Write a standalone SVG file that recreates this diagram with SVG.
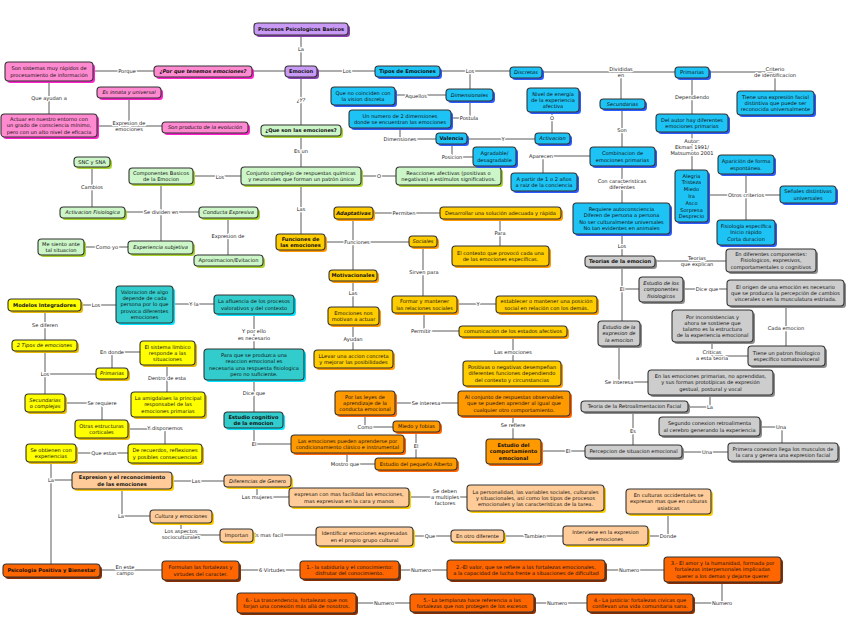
<svg xmlns="http://www.w3.org/2000/svg" width="848" height="638" viewBox="0 0 848 638">
<style>
text{font-family:"DejaVu Sans","Liberation Sans",sans-serif;font-size:5.1px;fill:#111;text-anchor:middle}
.b{font-weight:bold}.i{font-style:italic}
.l{stroke:#fff;stroke-width:2.4px;paint-order:stroke;stroke-linejoin:round;fill:#222}
#edges path{fill:none;stroke:#5a5a5a;stroke-width:1}
.bx{stroke:#333;stroke-width:1.1}
.pu .bx{fill:#c99af5}.pu .sh{fill:#8a3fb0}
.pk .bx{fill:#ff8ad0}.pk .sh{fill:#ff22cc}
.gr .bx{fill:#ccf5c8}.gr .sh{fill:#a6d22c}
.bl .bx{fill:#1ec3f5}.bl .sh{fill:#2a5cff}
.gy .bx{fill:#cdcdcd}.gy .sh{fill:#8c8c8c}
.gd .bx{fill:#ffcc00}.gd .sh{fill:#ff9900}
.or .bx{fill:#ff9900}.or .sh{fill:#ff6600}
.tl .bx{fill:#33cccc}.tl .sh{fill:#00e5ff}
.ye .bx{fill:#ffff00}.ye .sh{fill:#e6b800}
.pc .bx{fill:#ffcc99}.pc .sh{fill:#ffcc00}
.rd .bx{fill:#ff6600}.rd .sh{fill:#8a2e00}
</style>
<rect width="848" height="638" fill="#fff"/>
<g id="edges">
<path d="M301,35V66M285,71H252M154,71H93M49,81V114M97,126H162M129,98V124M301,77V125M301,136V167M241,176H193M361,176H396M301,185V234M161,184V241M125,212H199M92,167V207M128,247H84M228,218V255"/>
<path d="M317,71H375M440,71H510M470,71V89M470,101V118H451M446,95H395M400,128V139H436M467,139H535M552,133V112M452,144V157H473M542,72H675M621,72V99M709,72H775V91M692,78V114M692,132V170M708,195H780M746,174V220M622,109V147M590,156H543V173M622,166V203M622,234V256M655,261H726M622,267V321M622,289H639M683,289H727M786,306V346M748,356H712V342M619,346V382H648M710,395V407H688M633,412V445M682,452H728M760,427H782V443M585,451H541M513,439V416M458,403H395M365,415V427H393M416,432V458M375,464H347V453M291,444H254V428M254,412V380M254,349V314M214,304H173M116,305H81M45,311V340M45,351V394M45,374H96M112,368V352H140M167,365V392M65,403H102V420M128,429H165V444M128,453H76M51,462V564M51,480H72M172,481H224M257,487V497H289M409,497H467M122,489V516H150M181,523V535H220M253,535H316M413,536H451M504,536H563M648,536H668V514M100,570H162M239,570H300M399,570H447M605,570H664M722,582V603H693M587,603H534M410,603H356M325,242H409M353,219V270M373,213H440M500,219V246M353,281V307M353,325V350M423,247V296M457,304H496M424,313V331H459M513,337V361"/>
<text class="l" x="301" y="50.9">La</text>
<text class="l" x="127" y="72.9">Porque</text>
<text class="l" x="49" y="99.9">Que ayudan a</text>
<text class="l" x="129" y="124.8">Expresion de<tspan x="129" y="131.1">emociones</tspan></text>
<text class="l i" x="301" y="101.9">¿Y?</text>
<text class="l" x="301" y="152.9">Es un</text>
<text class="l" x="220" y="178.9">Los</text>
<text class="l" x="379" y="177.9">O</text>
<text class="l" x="301" y="210.9">Las</text>
<text class="l" x="161" y="213.9">Se dividen en</text>
<text class="l" x="92" y="188.9">Cambios</text>
<text class="l" x="107" y="248.9">Como yo</text>
<text class="l" x="228" y="237.9">Expresion de</text>
<text class="l" x="347" y="72.9">Los</text>
<text class="l" x="470" y="72.9">Los</text>
<text class="l" x="469" y="119.9">Postula</text>
<text class="l" x="416" y="97.9">Aquellos</text>
<text class="l" x="400" y="140.9">Dimensiones</text>
<text class="l" x="503" y="140.9">Y</text>
<text class="l" x="552" y="119.9">O</text>
<text class="l" x="452" y="158.9">Posicion</text>
<text class="l" x="621" y="70.8">Divididas<tspan x="621" y="77.1">en</tspan></text>
<text class="l" x="775" y="70.8">Criterio<tspan x="775" y="77.1">de identificacion</tspan></text>
<text class="l" x="692" y="98.9">Dependiendo</text>
<text class="l" x="692" y="142.8">Autor:<tspan x="692" y="149.1">Ekman 1991/</tspan><tspan x="692" y="155.4">Matsumoto 2001</tspan></text>
<text class="l" x="746" y="196.9">Otros criterios</text>
<text class="l" x="622" y="131.9">Son</text>
<text class="l" x="541" y="157.9">Aparecen</text>
<text class="l" x="622" y="182.8">Con caracteristicas<tspan x="622" y="189.1">diferentes</tspan></text>
<text class="l" x="622" y="247.9">Los</text>
<text class="l" x="697" y="259.8">Teorias<tspan x="697" y="266.1">que explican</tspan></text>
<text class="l" x="622" y="290.9">El</text>
<text class="l" x="707" y="290.9">Dice que</text>
<text class="l" x="786" y="329.9">Cada emocion</text>
<text class="l" x="712" y="353.8">Criticas<tspan x="712" y="360.1">a esta teoria</tspan></text>
<text class="l" x="619" y="383.9">Se interesa</text>
<text class="l" x="710" y="408.9">La</text>
<text class="l" x="633" y="432.9">Es</text>
<text class="l" x="707" y="453.9">Una</text>
<text class="l" x="781" y="428.9">Una</text>
<text class="l" x="568" y="452.9">El</text>
<text class="l" x="513" y="426.9">Se refiere</text>
<text class="l" x="426" y="404.9">Se interesa</text>
<text class="l" x="365" y="428.9">Como</text>
<text class="l" x="416" y="447.9">El</text>
<text class="l" x="345" y="465.9">Mostro que</text>
<text class="l" x="254" y="445.9">El</text>
<text class="l" x="254" y="394.9">Dice que</text>
<text class="l" x="254" y="333.3">Y por ello<tspan x="254" y="339.6">es necesario</tspan></text>
<text class="l" x="194" y="305.9">Y la</text>
<text class="l" x="96" y="306.9">Los</text>
<text class="l" x="45" y="326.9">Se diferen</text>
<text class="l" x="45" y="375.9">Los</text>
<text class="l" x="112" y="353.9">En donde</text>
<text class="l" x="167" y="379.9">Dentro de esta</text>
<text class="l" x="102" y="404.9">Se requiere</text>
<text class="l" x="165" y="429.9">Y disponemos</text>
<text class="l" x="104" y="454.9">Que estas</text>
<text class="l" x="51" y="481.9">La</text>
<text class="l" x="196" y="482.9">Las</text>
<text class="l" x="257" y="498.9">Las mujeres</text>
<text class="l" x="445" y="492.6">Se deben<tspan x="445" y="498.9">a multiples</tspan><tspan x="445" y="505.2">factores</tspan></text>
<text class="l" x="121" y="517.9">La</text>
<text class="l" x="181" y="532.8">Los aspectos<tspan x="181" y="539.1">socioculturales</tspan></text>
<text class="l" x="268" y="536.9">Es mas facil</text>
<text class="l" x="430" y="537.9">Que</text>
<text class="l" x="535" y="537.9">Tambien</text>
<text class="l" x="668" y="537.9">Donde</text>
<text class="l" x="125" y="568.8">En este<tspan x="125" y="575.1">campo</tspan></text>
<text class="l" x="272" y="571.9">6 Virtudes</text>
<text class="l" x="421" y="571.9">Numero</text>
<text class="l" x="629" y="571.9">Numero</text>
<text class="l" x="722" y="604.9">Numero</text>
<text class="l" x="557" y="604.9">Numero</text>
<text class="l" x="384" y="604.9">Numero</text>
<text class="l" x="357" y="243.9">Funciones</text>
<text class="l" x="404" y="214.9">Permiten</text>
<text class="l" x="500" y="234.9">Para</text>
<text class="l" x="353" y="294.9">Las</text>
<text class="l" x="353" y="340.9">Ayudan</text>
<text class="l" x="424" y="273.9">Sirven para</text>
<text class="l" x="478" y="305.9">Y</text>
<text class="l" x="421" y="332.9">Permitir</text>
<text class="l" x="513" y="353.9">Las emociones</text>
</g>

<g id="P1" class="pu"><rect class="sh" x="256" y="25" width="94" height="12" rx="3.5"/><rect class="bx" x="254" y="23" width="94" height="12" rx="3.5"/><text class="b" x="301" y="30.9">Procesos Psicologicos Basicos</text></g>
<g id="P2" class="pu"><rect class="sh" x="287" y="68" width="32" height="11" rx="3.5"/><rect class="bx" x="285" y="66" width="32" height="11" rx="3.5"/><text class="b" x="301" y="73.4">Emocion</text></g>

<g id="K1" class="pk"><rect class="sh" x="156" y="68" width="98" height="11" rx="3.5"/><rect class="bx" x="154" y="66" width="98" height="11" rx="3.5"/><text class="b i" x="203" y="73.4">¿Por que tenemos emociones?</text></g>
<g id="K2" class="pk"><rect class="sh" x="7" y="64" width="88" height="19" rx="3.5"/><rect class="bx" x="5" y="62" width="88" height="19" rx="3.5"/><text x="49" y="70.3">Son sistemas muy rápidos de<tspan x="49" y="76.6">procesamiento de información</tspan></text></g>
<g id="K3" class="pk"><rect class="sh" x="3" y="116" width="96" height="23" rx="3.5"/><rect class="bx" x="1" y="114" width="96" height="23" rx="3.5"/><text x="49" y="121.1">Actuar en nuestro entorno con<tspan x="49" y="127.4">un grado de consciencia mínimo,</tspan><tspan x="49" y="133.7">pero con un alto nivel de eficacia</tspan></text></g>
<g id="K4" class="pk"><rect class="sh" x="99" y="89" width="64" height="11" rx="3.5"/><rect class="bx" x="97" y="87" width="64" height="11" rx="3.5"/><text class="i" x="129" y="94.4">Es innata y universal</text></g>
<g id="K5" class="pk"><rect class="sh" x="164" y="124" width="86" height="11" rx="3.5"/><rect class="bx" x="162" y="122" width="86" height="11" rx="3.5"/><text class="i" x="205" y="129.4">Son producto de la evolución</text></g>

<g id="G1" class="gr"><rect class="sh" x="263" y="127" width="80" height="11" rx="3.5"/><rect class="bx" x="261" y="125" width="80" height="11" rx="3.5"/><text class="b" x="301" y="132.4">¿Que son las emociones?</text></g>
<g id="G2" class="gr"><rect class="sh" x="243" y="169" width="120" height="18" rx="3.5"/><rect class="bx" x="241" y="167" width="120" height="18" rx="3.5"/><text x="301" y="174.8">Conjunto complejo de respuestas químicas<tspan x="301" y="181.1">y neuronales que forman un patrón único</tspan></text></g>
<g id="G3" class="gr"><rect class="sh" x="131" y="170" width="64" height="16" rx="3.5"/><rect class="bx" x="129" y="168" width="64" height="16" rx="3.5"/><text x="161" y="174.8">Componentes Basicos<tspan x="161" y="181.1">de la Emocion</tspan></text></g>
<g id="G4" class="gr"><rect class="sh" x="398" y="169" width="105" height="18" rx="3.5"/><rect class="bx" x="396" y="167" width="105" height="18" rx="3.5"/><text x="448.5" y="174.8">Reacciones afectivas (positivas o<tspan x="448.5" y="181.1">negativas) a estímulos significativos.</tspan></text></g>
<g id="G5" class="gr"><rect class="sh" x="76" y="159" width="36" height="10" rx="3.5"/><rect class="bx" x="74" y="157" width="36" height="10" rx="3.5"/><text x="92" y="163.9">SNC y SNA</text></g>
<g id="G6" class="gr"><rect class="sh" x="62" y="209" width="65" height="11" rx="3.5"/><rect class="bx" x="60" y="207" width="65" height="11" rx="3.5"/><text class="i" x="92.5" y="214.4">Activacion Fisiologica</text></g>
<g id="G7" class="gr"><rect class="sh" x="201" y="209" width="59" height="11" rx="3.5"/><rect class="bx" x="199" y="207" width="59" height="11" rx="3.5"/><text class="i" x="228.5" y="214.4">Conducta Expresiva</text></g>
<g id="G8" class="gr"><rect class="sh" x="130" y="243" width="65" height="13" rx="3.5"/><rect class="bx" x="128" y="241" width="65" height="13" rx="3.5"/><text class="i" x="160.5" y="249.4">Experiencia subjetiva</text></g>
<g id="G9" class="gr"><rect class="sh" x="40" y="241" width="46" height="16" rx="3.5"/><rect class="bx" x="38" y="239" width="46" height="16" rx="3.5"/><text x="61" y="245.8">Me siento ante<tspan x="61" y="252.1">tal situacion</tspan></text></g>
<g id="G10" class="gr"><rect class="sh" x="196" y="257" width="69" height="11" rx="3.5"/><rect class="bx" x="194" y="255" width="69" height="11" rx="3.5"/><text x="228.5" y="262.4">Aproximacion/Evitacion</text></g>

<g id="B1" class="bl"><rect class="sh" x="377" y="68" width="65" height="11" rx="3.5"/><rect class="bx" x="375" y="66" width="65" height="11" rx="3.5"/><text class="b" x="407.5" y="73.4">Tipos de Emociones</text></g>
<g id="B2" class="bl"><rect class="sh" x="512" y="69" width="32" height="11" rx="3.5"/><rect class="bx" x="510" y="67" width="32" height="11" rx="3.5"/><text class="i" x="526" y="74.4">Discretas</text></g>
<g id="B3" class="bl"><rect class="sh" x="448" y="91" width="47" height="12" rx="3.5"/><rect class="bx" x="446" y="89" width="47" height="12" rx="3.5"/><text class="i" x="469.5" y="96.9">Dimensionales</text></g>
<g id="B4" class="bl"><rect class="sh" x="333" y="89" width="64" height="18" rx="3.5"/><rect class="bx" x="331" y="87" width="64" height="18" rx="3.5"/><text x="363" y="94.8">Que no coinciden con<tspan x="363" y="101.1">la vision discreta</tspan></text></g>
<g id="B5" class="bl"><rect class="sh" x="351" y="112" width="102" height="18" rx="3.5"/><rect class="bx" x="349" y="110" width="102" height="18" rx="3.5"/><text x="400" y="117.8">Un numero de  2 dimensiones<tspan x="400" y="124.1">donde se encuentran las emociones</tspan></text></g>
<g id="B6" class="bl"><rect class="sh" x="438" y="135" width="31" height="11" rx="3.5"/><rect class="bx" x="436" y="133" width="31" height="11" rx="3.5"/><text class="b" x="451.5" y="140.4">Valencia</text></g>
<g id="B7" class="bl"><rect class="sh" x="537" y="135" width="35" height="11" rx="3.5"/><rect class="bx" x="535" y="133" width="35" height="11" rx="3.5"/><text class="i" x="552.5" y="140.4">Activacion</text></g>
<g id="B8" class="bl"><rect class="sh" x="529" y="90" width="52" height="24" rx="3.5"/><rect class="bx" x="527" y="88" width="52" height="24" rx="3.5"/><text x="553" y="95.6">Nivel de energía<tspan x="553" y="101.9">de la experiencia</tspan><tspan x="553" y="108.2">afectiva</tspan></text></g>
<g id="B9" class="bl"><rect class="sh" x="475" y="149" width="43" height="19" rx="3.5"/><rect class="bx" x="473" y="147" width="43" height="19" rx="3.5"/><text x="494.5" y="155.3">Agradable/<tspan x="494.5" y="161.6">desagradable</tspan></text></g>
<g id="B10" class="bl"><rect class="sh" x="677" y="69" width="34" height="11" rx="3.5"/><rect class="bx" x="675" y="67" width="34" height="11" rx="3.5"/><text x="692" y="74.4">Primarias</text></g>
<g id="B11" class="bl"><rect class="sh" x="602" y="101" width="45" height="10" rx="3.5"/><rect class="bx" x="600" y="99" width="45" height="10" rx="3.5"/><text class="i" x="622.5" y="105.9">Secundarias</text></g>
<g id="B12" class="bl"><rect class="sh" x="739" y="93" width="77" height="24" rx="3.5"/><rect class="bx" x="737" y="91" width="77" height="24" rx="3.5"/><text x="775.5" y="98.6">Tiene una expresión facial<tspan x="775.5" y="104.9">distintiva que puede ser</tspan><tspan x="775.5" y="111.2">reconocida universalmente</tspan></text></g>
<g id="B13" class="bl"><rect class="sh" x="658" y="116" width="72" height="18" rx="3.5"/><rect class="bx" x="656" y="114" width="72" height="18" rx="3.5"/><text x="692" y="121.8">Del autor hay diferentes<tspan x="692" y="128.1">emociones primarias</tspan></text></g>
<g id="B14" class="bl"><rect class="sh" x="677" y="172" width="33" height="52" rx="3.5"/><rect class="bx" x="675" y="170" width="33" height="52" rx="3.5"/><text x="691.5" y="177.5">Alegria<tspan x="691.5" y="184.3">Tristeza</tspan><tspan x="691.5" y="191.1">Miedo</tspan><tspan x="691.5" y="197.9">Ira</tspan><tspan x="691.5" y="204.7">Asco</tspan><tspan x="691.5" y="211.5">Sorpresa</tspan><tspan x="691.5" y="218.3">Desprecio</tspan></text></g>
<g id="B15" class="bl"><rect class="sh" x="782" y="188" width="56" height="17" rx="3.5"/><rect class="bx" x="780" y="186" width="56" height="17" rx="3.5"/><text x="808" y="193.3">Señales distintivas<tspan x="808" y="199.6">universales</tspan></text></g>
<g id="B16" class="bl"><rect class="sh" x="720" y="157" width="56" height="19" rx="3.5"/><rect class="bx" x="718" y="155" width="56" height="19" rx="3.5"/><text x="746" y="163.3">Aparición de forma<tspan x="746" y="169.6">espontánea.</tspan></text></g>
<g id="B17" class="bl"><rect class="sh" x="719" y="222" width="58" height="25" rx="3.5"/><rect class="bx" x="717" y="220" width="58" height="25" rx="3.5"/><text x="746" y="228.1">Fisiología específica<tspan x="746" y="234.4">Inicio rápido</tspan><tspan x="746" y="240.7">Corta duracion</tspan></text></g>
<g id="B18" class="bl"><rect class="sh" x="592" y="149" width="65" height="19" rx="3.5"/><rect class="bx" x="590" y="147" width="65" height="19" rx="3.5"/><text x="622.5" y="155.3">Combinacion de<tspan x="622.5" y="161.6">emociones primarias</tspan></text></g>
<g id="B19" class="bl"><rect class="sh" x="513" y="175" width="66" height="18" rx="3.5"/><rect class="bx" x="511" y="173" width="66" height="18" rx="3.5"/><text x="544" y="180.8">A partir de 1 o 2 años<tspan x="544" y="187.1">a raiz de la conciencia</tspan></text></g>
<g id="B20" class="bl"><rect class="sh" x="575" y="205" width="97" height="31" rx="3.5"/><rect class="bx" x="573" y="203" width="97" height="31" rx="3.5"/><text x="621.5" y="211">Requiere autoconsciencia<tspan x="621.5" y="217.3">Diferen de persona a persona</tspan><tspan x="621.5" y="223.6">No ser culturalmente universales</tspan><tspan x="621.5" y="229.9">No tan evidentes en animales</tspan></text></g>

<g id="Y1" class="gy"><rect class="sh" x="587" y="258" width="70" height="11" rx="3.5"/><rect class="bx" x="585" y="256" width="70" height="11" rx="3.5"/><text class="b" x="620" y="263.4">Teorias de la emocion</text></g>
<g id="Y2" class="gy"><rect class="sh" x="728" y="251" width="90" height="23" rx="3.5"/><rect class="bx" x="726" y="249" width="90" height="23" rx="3.5"/><text x="771" y="256.1">En diferentes componentes:<tspan x="771" y="262.4">Fisiologicos, expresivos,</tspan><tspan x="771" y="268.7">comportamentales o cognitivos</tspan></text></g>
<g id="Y3" class="gy"><rect class="sh" x="641" y="279" width="44" height="25" rx="3.5"/><rect class="bx" x="639" y="277" width="44" height="25" rx="3.5"/><text class="i" x="661" y="285.1">Estudio de los<tspan x="661" y="291.4">componentes</tspan><tspan x="661" y="297.7">fisiologicos</tspan></text></g>
<g id="Y4" class="gy"><rect class="sh" x="600" y="323" width="42" height="25" rx="3.5"/><rect class="bx" x="598" y="321" width="42" height="25" rx="3.5"/><text class="i" x="619" y="329.1">Estudio de la<tspan x="619" y="335.4">expresion de</tspan><tspan x="619" y="341.7">la emocion</tspan></text></g>
<g id="Y5" class="gy"><rect class="sh" x="729" y="282" width="117" height="26" rx="3.5"/><rect class="bx" x="727" y="280" width="117" height="26" rx="3.5"/><text x="785.5" y="288.6">El origen de una emoción es necesario<tspan x="785.5" y="294.9">que se produzca la percepción de cambios</tspan><tspan x="785.5" y="301.2">viscerales o en la musculatura estriada.</tspan></text></g>
<g id="Y6" class="gy"><rect class="sh" x="750" y="348" width="77" height="20" rx="3.5"/><rect class="bx" x="748" y="346" width="77" height="20" rx="3.5"/><text x="786.5" y="354.8">Tiene un patron fisiologico<tspan x="786.5" y="361.1">especifico somatovisceral</tspan></text></g>
<g id="Y7" class="gy"><rect class="sh" x="674" y="312" width="81" height="32" rx="3.5"/><rect class="bx" x="672" y="310" width="81" height="32" rx="3.5"/><text x="712.5" y="318.5">Por inconsistencias y<tspan x="712.5" y="324.8">ahora se sostiene que</tspan><tspan x="712.5" y="331.1">talamo es la estructura</tspan><tspan x="712.5" y="337.4">de la experiencia emocional</tspan></text></g>
<g id="Y8" class="gy"><rect class="sh" x="650" y="372" width="125" height="25" rx="3.5"/><rect class="bx" x="648" y="370" width="125" height="25" rx="3.5"/><text x="710.5" y="378.1">En las emociones primarias, no aprendidas,<tspan x="710.5" y="384.4">y sus formas prototípicas de expresión</tspan><tspan x="710.5" y="390.7">gestual, postural y vocal</tspan></text></g>
<g id="Y9" class="gy"><rect class="sh" x="583" y="403" width="107" height="11" rx="3.5"/><rect class="bx" x="581" y="401" width="107" height="11" rx="3.5"/><text x="634.5" y="408.4">Teoria de la Retroalimentacion Facial</text></g>
<g id="Y10" class="gy"><rect class="sh" x="661" y="419" width="101" height="19" rx="3.5"/><rect class="bx" x="659" y="417" width="101" height="19" rx="3.5"/><text x="709.5" y="425.3">Segundo conexion retroalimenta<tspan x="709.5" y="431.6">al cerebro generando la experiencia</tspan></text></g>
<g id="Y11" class="gy"><rect class="sh" x="730" y="445" width="110" height="18" rx="3.5"/><rect class="bx" x="728" y="443" width="110" height="18" rx="3.5"/><text x="783" y="450.8">Primera conexion llega los musculos de<tspan x="783" y="457.1">la cara y genera una expresion facial</tspan></text></g>
<g id="Y12" class="gy"><rect class="sh" x="587" y="447" width="97" height="13" rx="3.5"/><rect class="bx" x="585" y="445" width="97" height="13" rx="3.5"/><text x="633.5" y="453.4">Percepcion de situacion emocional</text></g>

<g id="D1" class="gd"><rect class="sh" x="278" y="236" width="49" height="16" rx="3.5"/><rect class="bx" x="276" y="234" width="49" height="16" rx="3.5"/><text class="b" x="300.5" y="240.8">Funciones de<tspan x="300.5" y="247.1">las emociones</tspan></text></g>
<g id="D2" class="gd"><rect class="sh" x="336" y="209" width="39" height="12" rx="3.5"/><rect class="bx" x="334" y="207" width="39" height="12" rx="3.5"/><text class="b i" x="353.5" y="214.9">Adaptativas</text></g>
<g id="D3" class="gd"><rect class="sh" x="442" y="209" width="121" height="12" rx="3.5"/><rect class="bx" x="440" y="207" width="121" height="12" rx="3.5"/><text x="500.5" y="214.9">Desarrollar una solución adecuada y rápida</text></g>
<g id="D4" class="gd"><rect class="sh" x="454" y="248" width="97" height="20" rx="3.5"/><rect class="bx" x="452" y="246" width="97" height="20" rx="3.5"/><text x="500.5" y="254.8">El contexto que provocó cada una<tspan x="500.5" y="261.1">de las emociones específicas.</tspan></text></g>
<g id="D5" class="gd"><rect class="sh" x="331" y="272" width="48" height="11" rx="3.5"/><rect class="bx" x="329" y="270" width="48" height="11" rx="3.5"/><text class="b" x="353" y="277.4">Motivacionales</text></g>
<g id="D6" class="gd"><rect class="sh" x="330" y="309" width="51" height="18" rx="3.5"/><rect class="bx" x="328" y="307" width="51" height="18" rx="3.5"/><text x="353.5" y="314.8">Emociones nos<tspan x="353.5" y="321.1">motivan a actuar</tspan></text></g>
<g id="D7" class="gd"><rect class="sh" x="316" y="352" width="79" height="18" rx="3.5"/><rect class="bx" x="314" y="350" width="79" height="18" rx="3.5"/><text x="353.5" y="357.8">LLevar una accion concreta<tspan x="353.5" y="364.1">y mejorar las posibilidades</tspan></text></g>
<g id="D8" class="gd"><rect class="sh" x="411" y="238" width="28" height="11" rx="3.5"/><rect class="bx" x="409" y="236" width="28" height="11" rx="3.5"/><text class="i" x="423" y="243.4">Sociales</text></g>
<g id="D9" class="gd"><rect class="sh" x="394" y="298" width="65" height="17" rx="3.5"/><rect class="bx" x="392" y="296" width="65" height="17" rx="3.5"/><text x="424.5" y="303.3">Formar y mantener<tspan x="424.5" y="309.6">las relaciones sociales</tspan></text></g>
<g id="D10" class="gd"><rect class="sh" x="498" y="298" width="101" height="17" rx="3.5"/><rect class="bx" x="496" y="296" width="101" height="17" rx="3.5"/><text x="546.5" y="303.3">establecer o mantener una posición<tspan x="546.5" y="309.6">social en relación con los demás.</tspan></text></g>
<g id="D11" class="gd"><rect class="sh" x="461" y="328" width="108" height="11" rx="3.5"/><rect class="bx" x="459" y="326" width="108" height="11" rx="3.5"/><text x="513" y="333.4">comunicación de los estados afectivos</text></g>
<g id="D12" class="gd"><rect class="sh" x="465" y="363" width="98" height="25" rx="3.5"/><rect class="bx" x="463" y="361" width="98" height="25" rx="3.5"/><text x="512" y="369.1">Positivas o negativas desempeñan<tspan x="512" y="375.4">diferentes funciones dependiendo</tspan><tspan x="512" y="381.7">del contexto y circunstancias</tspan></text></g>

<g id="O1" class="or"><rect class="sh" x="337" y="393" width="60" height="24" rx="3.5"/><rect class="bx" x="335" y="391" width="60" height="24" rx="3.5"/><text x="365" y="398.6">Por las leyes de<tspan x="365" y="404.9">aprendizaje de la</tspan><tspan x="365" y="411.2">conducta emocional</tspan></text></g>
<g id="O2" class="or"><rect class="sh" x="460" y="393" width="112" height="25" rx="3.5"/><rect class="bx" x="458" y="391" width="112" height="25" rx="3.5"/><text x="514" y="399.1">Al conjunto de respuestas observables<tspan x="514" y="405.4">que se pueden aprender al igual que</tspan><tspan x="514" y="411.7">cualquier otro comportamiento.</tspan></text></g>
<g id="O3" class="or"><rect class="sh" x="488" y="441" width="55" height="25" rx="3.5"/><rect class="bx" x="486" y="439" width="55" height="25" rx="3.5"/><text class="b" x="513.5" y="447.1">Estudio del<tspan x="513.5" y="453.4">comportamiento</tspan><tspan x="513.5" y="459.7">emocional</tspan></text></g>
<g id="O4" class="or"><rect class="sh" x="395" y="423" width="47" height="11" rx="3.5"/><rect class="bx" x="393" y="421" width="47" height="11" rx="3.5"/><text x="416.5" y="428.4">Miedo y fobias</text></g>
<g id="O5" class="or"><rect class="sh" x="377" y="460" width="82" height="12" rx="3.5"/><rect class="bx" x="375" y="458" width="82" height="12" rx="3.5"/><text x="416" y="465.9">Estudio del pequeño Alberto</text></g>
<g id="O6" class="or"><rect class="sh" x="293" y="437" width="113" height="18" rx="3.5"/><rect class="bx" x="291" y="435" width="113" height="18" rx="3.5"/><text x="347.5" y="442.8">Las emociones pueden aprenderse por<tspan x="347.5" y="449.1">condicionamiento clásico e instrumental</tspan></text></g>

<g id="T1" class="tl"><rect class="sh" x="226" y="414" width="59" height="16" rx="3.5"/><rect class="bx" x="224" y="412" width="59" height="16" rx="3.5"/><text class="b" x="253.5" y="418.8">Estudio cognitivo<tspan x="253.5" y="425.1">de la emocion</tspan></text></g>
<g id="T2" class="tl"><rect class="sh" x="206" y="351" width="100" height="31" rx="3.5"/><rect class="bx" x="204" y="349" width="100" height="31" rx="3.5"/><text x="254" y="357">Para que se produzca una<tspan x="254" y="363.3">reaccion emocional es</tspan><tspan x="254" y="369.6">necesaria una respuesta fisiologica</tspan><tspan x="254" y="375.9">pero no suficiente.</tspan></text></g>
<g id="T3" class="tl"><rect class="sh" x="216" y="297" width="80" height="19" rx="3.5"/><rect class="bx" x="214" y="295" width="80" height="19" rx="3.5"/><text x="254" y="303.3">La afluencia de los procesos<tspan x="254" y="309.6">valorativos y del contexto</tspan></text></g>
<g id="T4" class="tl"><rect class="sh" x="118" y="288" width="57" height="37" rx="3.5"/><rect class="bx" x="116" y="286" width="57" height="37" rx="3.5"/><text x="144.5" y="293.8">Valoracion de algo<tspan x="144.5" y="300.1">depende de cada</tspan><tspan x="144.5" y="306.4">persona por lo que</tspan><tspan x="144.5" y="312.7">provoca diferentes</tspan><tspan x="144.5" y="319">emociones</tspan></text></g>

<g id="E1" class="ye"><rect class="sh" x="10" y="301" width="73" height="12" rx="3.5"/><rect class="bx" x="8" y="299" width="73" height="12" rx="3.5"/><text class="b" x="44.5" y="306.9">Modelos Integradores</text></g>
<g id="E2" class="ye"><rect class="sh" x="14" y="342" width="65" height="11" rx="3.5"/><rect class="bx" x="12" y="340" width="65" height="11" rx="3.5"/><text class="i" x="44.5" y="347.4">2 Tipos de emociones</text></g>
<g id="E3" class="ye"><rect class="sh" x="27" y="396" width="40" height="18" rx="3.5"/><rect class="bx" x="25" y="394" width="40" height="18" rx="3.5"/><text class="i" x="45" y="401.8">Secundarias<tspan x="45" y="408.1">o complejas</tspan></text></g>
<g id="E4" class="ye"><rect class="sh" x="98" y="370" width="32" height="11" rx="3.5"/><rect class="bx" x="96" y="368" width="32" height="11" rx="3.5"/><text class="i" x="112" y="375.4">Primarias</text></g>
<g id="E5" class="ye"><rect class="sh" x="142" y="343" width="55" height="24" rx="3.5"/><rect class="bx" x="140" y="341" width="55" height="24" rx="3.5"/><text x="167.5" y="348.6">El sistema límbico<tspan x="167.5" y="354.9">responde a las</tspan><tspan x="167.5" y="361.2">situaciones</tspan></text></g>
<g id="E6" class="ye"><rect class="sh" x="133" y="394" width="74" height="25" rx="3.5"/><rect class="bx" x="131" y="392" width="74" height="25" rx="3.5"/><text x="168" y="400.1">La amigdalaes la principal<tspan x="168" y="406.4">responsabel de las</tspan><tspan x="168" y="412.7">emociones primarias</tspan></text></g>
<g id="E7" class="ye"><rect class="sh" x="77" y="422" width="53" height="18" rx="3.5"/><rect class="bx" x="75" y="420" width="53" height="18" rx="3.5"/><text x="101.5" y="427.8">Otras estructuras<tspan x="101.5" y="434.1">corticales</tspan></text></g>
<g id="E8" class="ye"><rect class="sh" x="130" y="446" width="74" height="19" rx="3.5"/><rect class="bx" x="128" y="444" width="74" height="19" rx="3.5"/><text x="165" y="452.3">De recuerdos, reflexiones<tspan x="165" y="458.6">y posibles consecuencias</tspan></text></g>
<g id="E9" class="ye"><rect class="sh" x="28" y="446" width="50" height="18" rx="3.5"/><rect class="bx" x="26" y="444" width="50" height="18" rx="3.5"/><text x="51" y="451.8">Se obtienen con<tspan x="51" y="458.1">experiencias</tspan></text></g>

<g id="C1" class="pc"><rect class="sh" x="74" y="474" width="100" height="17" rx="3.5"/><rect class="bx" x="72" y="472" width="100" height="17" rx="3.5"/><text class="b" x="122" y="479.3">Expresion y el reconocimiento<tspan x="122" y="485.6">de las emociones</tspan></text></g>
<g id="C2" class="pc"><rect class="sh" x="226" y="477" width="67" height="12" rx="3.5"/><rect class="bx" x="224" y="475" width="67" height="12" rx="3.5"/><text class="i" x="257.5" y="482.9">Diferencias de Genero</text></g>
<g id="C3" class="pc"><rect class="sh" x="291" y="490" width="120" height="19" rx="3.5"/><rect class="bx" x="289" y="488" width="120" height="19" rx="3.5"/><text x="349" y="496.3">expresan con mas facilidad las emociones,<tspan x="349" y="502.6">mas expresivas en la cara y manos</tspan></text></g>
<g id="C4" class="pc"><rect class="sh" x="469" y="487" width="137" height="26" rx="3.5"/><rect class="bx" x="467" y="485" width="137" height="26" rx="3.5"/><text x="535.5" y="493.6">La personalidad, las variables sociales, culturales<tspan x="535.5" y="499.9">y situacionales, así como los tipos de procesos</tspan><tspan x="535.5" y="506.2">emocionales y las características de la tarea.</tspan></text></g>
<g id="C5" class="pc"><rect class="sh" x="152" y="512" width="62" height="13" rx="3.5"/><rect class="bx" x="150" y="510" width="62" height="13" rx="3.5"/><text class="i" x="181" y="518.4">Cultura y emociones</text></g>
<g id="C6" class="pc"><rect class="sh" x="222" y="531" width="33" height="13" rx="3.5"/><rect class="bx" x="220" y="529" width="33" height="13" rx="3.5"/><text x="236.5" y="537.4">Importan</text></g>
<g id="C7" class="pc"><rect class="sh" x="318" y="529" width="97" height="19" rx="3.5"/><rect class="bx" x="316" y="527" width="97" height="19" rx="3.5"/><text x="364.5" y="535.3">Identificar emociones expresadas<tspan x="364.5" y="541.6">en el  propio grupo cultural</tspan></text></g>
<g id="C8" class="pc"><rect class="sh" x="453" y="532" width="53" height="12" rx="3.5"/><rect class="bx" x="451" y="530" width="53" height="12" rx="3.5"/><text x="477.5" y="537.9">En otro diferente</text></g>
<g id="C9" class="pc"><rect class="sh" x="565" y="528" width="85" height="19" rx="3.5"/><rect class="bx" x="563" y="526" width="85" height="19" rx="3.5"/><text x="605.5" y="534.3">Interviene en la expresion<tspan x="605.5" y="540.6">de emociones</tspan></text></g>
<g id="C10" class="pc"><rect class="sh" x="628" y="491" width="85" height="25" rx="3.5"/><rect class="bx" x="626" y="489" width="85" height="25" rx="3.5"/><text x="668.5" y="497.1">En culturas occidentales se<tspan x="668.5" y="503.4">expresan mas que en culturas</tspan><tspan x="668.5" y="509.7">asiaticas</tspan></text></g>

<g id="R1" class="rd"><rect class="sh" x="5" y="566" width="97" height="13" rx="3.5"/><rect class="bx" x="3" y="564" width="97" height="13" rx="3.5"/><text class="b" x="51.5" y="572.4">Psicologia Positiva y Bienestar</text></g>
<g id="R2" class="rd"><rect class="sh" x="164" y="563" width="77" height="19" rx="3.5"/><rect class="bx" x="162" y="561" width="77" height="19" rx="3.5"/><text x="200.5" y="569.3">Formulan las  fortalezas y<tspan x="200.5" y="575.6">virtudes del caracter.</tspan></text></g>
<g id="R3" class="rd"><rect class="sh" x="302" y="563" width="99" height="18" rx="3.5"/><rect class="bx" x="300" y="561" width="99" height="18" rx="3.5"/><text x="349.5" y="568.8">1.- la sabiduría y el conocimiento:<tspan x="349.5" y="575.1">disfrutar del conocimiento.</tspan></text></g>
<g id="R4" class="rd"><rect class="sh" x="449" y="562" width="158" height="20" rx="3.5"/><rect class="bx" x="447" y="560" width="158" height="20" rx="3.5"/><text x="526" y="568.8">2.-El valor, que se refiere a las fortalezas emocionales,<tspan x="526" y="575.1">a la capacidad de lucha frente a situaciones de dificultad</tspan></text></g>
<g id="R5" class="rd"><rect class="sh" x="666" y="559" width="117" height="25" rx="3.5"/><rect class="bx" x="664" y="557" width="117" height="25" rx="3.5"/><text x="722.5" y="565.1">3.- El amor y la humanidad, formada por<tspan x="722.5" y="571.4">fortalezas interpersonales implicadas</tspan><tspan x="722.5" y="577.7">querer a los demas y dejarse querer</tspan></text></g>
<g id="R6" class="rd"><rect class="sh" x="589" y="596" width="106" height="18" rx="3.5"/><rect class="bx" x="587" y="594" width="106" height="18" rx="3.5"/><text x="640" y="601.8">4.- La justicia: fortalezas cívicas que<tspan x="640" y="608.1">conllevan una vida comunitaria sana.</tspan></text></g>
<g id="R7" class="rd"><rect class="sh" x="412" y="596" width="124" height="18" rx="3.5"/><rect class="bx" x="410" y="594" width="124" height="18" rx="3.5"/><text x="472" y="601.8">5.- La templanza hace referencia a las<tspan x="472" y="608.1">fortalezas que nos protegen de los excesos</tspan></text></g>
<g id="R8" class="rd"><rect class="sh" x="239" y="595" width="119" height="20" rx="3.5"/><rect class="bx" x="237" y="593" width="119" height="20" rx="3.5"/><text x="296.5" y="601.8">6.- La trascendencia, fortalezas que nos<tspan x="296.5" y="608.1">forjan una conexión más allá de nosotros.</tspan></text></g>
</svg>
